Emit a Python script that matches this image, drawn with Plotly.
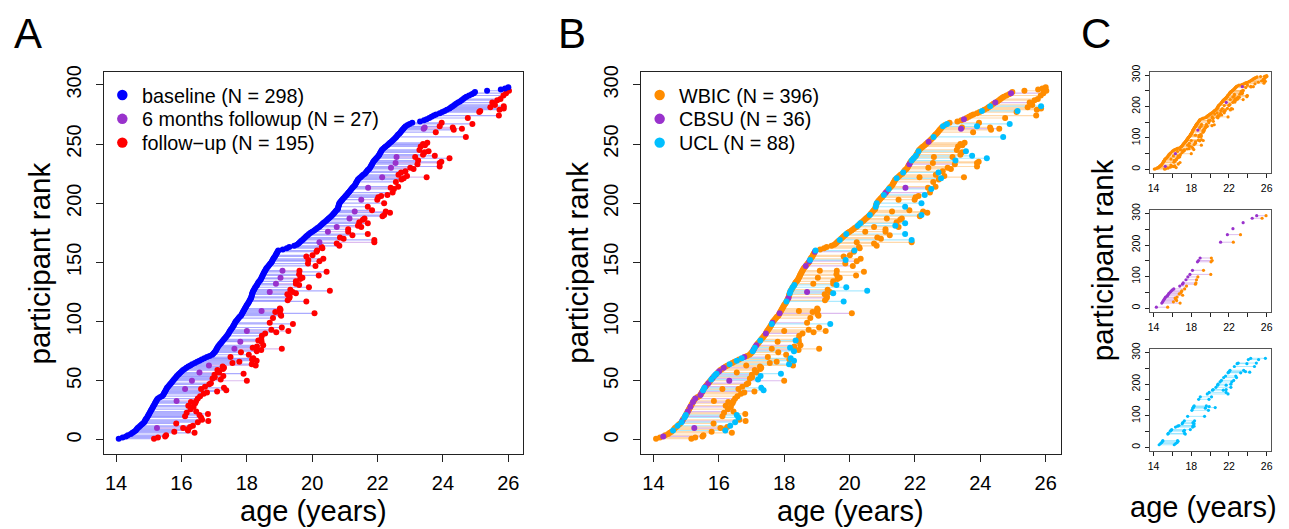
import plotly.graph_objects as go

W, H = 1289, 529

# ---------------- data ----------------
baseline_age = [
    14.08, 14.2, 14.3, 14.36, 14.45, 14.5, 14.55, 14.6, 14.63, 14.66,
    14.7, 14.74, 14.78, 14.82, 14.86, 14.88, 14.9, 14.92, 14.95, 14.97,
    14.99, 15.01, 15.03, 15.05, 15.07, 15.09, 15.11, 15.13, 15.15, 15.17,
    15.19, 15.21, 15.23, 15.25, 15.28, 15.34, 15.4, 15.44, 15.46, 15.48,
    15.5, 15.52, 15.54, 15.56, 15.59, 15.62, 15.65, 15.68, 15.71, 15.74,
    15.77, 15.8, 15.83, 15.86, 15.9, 15.93, 15.97, 16.01, 16.05, 16.1,
    16.15, 16.21, 16.27, 16.33, 16.41, 16.48, 16.55, 16.62, 16.7, 16.78,
    16.86, 16.94, 16.98, 17.01, 17.04, 17.06, 17.08, 17.1, 17.12, 17.15,
    17.18, 17.21, 17.24, 17.27, 17.3, 17.33, 17.36, 17.39, 17.42, 17.44,
    17.46, 17.48, 17.51, 17.53, 17.56, 17.58, 17.6, 17.62, 17.64, 17.66,
    17.69, 17.72, 17.75, 17.78, 17.82, 17.84, 17.86, 17.88, 17.9, 17.92,
    17.94, 17.96, 17.98, 18.0, 18.03, 18.05, 18.07, 18.09, 18.11, 18.13,
    18.14, 18.15, 18.16, 18.17, 18.18, 18.2, 18.22, 18.24, 18.26, 18.29,
    18.31, 18.33, 18.35, 18.38, 18.41, 18.43, 18.45, 18.47, 18.48, 18.5,
    18.52, 18.54, 18.56, 18.58, 18.6, 18.63, 18.66, 18.69, 18.72, 18.75,
    18.77, 18.79, 18.81, 18.83, 18.86, 18.88, 18.9, 18.92, 18.94, 18.96,
    19.1, 19.22, 19.3, 19.45, 19.53, 19.58, 19.62, 19.66, 19.7, 19.74,
    19.78, 19.82, 19.86, 19.9, 19.95, 20.0, 20.06, 20.11, 20.16, 20.21,
    20.25, 20.29, 20.33, 20.37, 20.42, 20.46, 20.5, 20.54, 20.58, 20.62,
    20.65, 20.68, 20.71, 20.74, 20.78, 20.79, 20.8, 20.81, 20.82, 20.83,
    20.86, 20.89, 20.92, 20.95, 20.99, 21.02, 21.05, 21.08, 21.11, 21.14,
    21.17, 21.2, 21.23, 21.26, 21.3, 21.32, 21.34, 21.36, 21.38, 21.4,
    21.44, 21.48, 21.52, 21.56, 21.61, 21.64, 21.67, 21.7, 21.74, 21.77,
    21.79, 21.81, 21.83, 21.85, 21.87, 21.9, 21.93, 21.96, 22.0, 22.03,
    22.05, 22.07, 22.09, 22.11, 22.13, 22.17, 22.21, 22.25, 22.3, 22.34,
    22.38, 22.42, 22.46, 22.5, 22.54, 22.57, 22.6, 22.63, 22.67, 22.7,
    22.73, 22.76, 22.79, 22.82, 22.86, 22.92, 22.98, 23.06, 23.3, 23.42,
    23.5, 23.58, 23.65, 23.72, 23.79, 23.9, 23.98, 24.05, 24.12, 24.2,
    24.25, 24.3, 24.35, 24.4, 24.46, 24.52, 24.57, 24.62, 24.67, 24.72,
    24.8, 24.88, 24.94, 24.98, 25.35, 25.77, 25.9, 26.0,
]

sixmonth_rank = [10, 33, 43, 50, 57, 63, 77, 83, 92, 109, 125, 132, 137, 143,
                 167, 176, 180, 187, 193, 203, 213, 222, 230, 234, 239, 263, 264]
sixmonth_age = [15.25, 15.85, 16.11, 16.32, 16.55, 16.84, 17.62, 17.8, 18.0, 18.45,
                18.7, 18.89, 19.03, 19.09, 20.22, 20.48, 20.75, 21.14, 21.3, 21.5,
                21.71, 22.14, 22.41, 22.55, 22.58, 23.41, 23.44]

followup_rank = [
    1, 2, 3, 4, 6, 7, 8, 9, 10,
    11, 12, 14, 15, 16, 17, 19, 20,
    21, 22, 23, 24, 26, 28, 29,
    31, 32, 33, 35, 37, 39, 40,
    41, 42, 43, 44, 45, 47, 48, 50,
    51, 52, 53, 54, 55, 56, 57, 59, 60,
    61, 62, 63, 64, 65, 66, 67, 68, 69, 70,
    72, 74, 75, 76, 77, 78, 79, 80,
    83, 84, 85, 88, 90,
    91, 92, 93, 95, 98, 99,
    103, 105, 106, 107, 108, 109, 110,
    111, 117, 118, 120,
    121, 123, 124, 125, 126, 127, 129,
    131, 132, 134, 136, 137, 139, 140,
    142, 143, 147, 149,
    151, 152, 153, 155, 156, 159, 160,
    162, 163, 164, 166, 167, 169, 170,
    171, 173, 174, 176, 178, 180,
    181, 183, 184, 186, 187, 189, 190,
    192, 193, 194, 197, 200,
    203, 205, 206, 207, 209,
    212, 213, 214, 218, 220,
    221, 222, 223, 224, 226, 227, 229, 230,
    231, 233, 234, 235, 236, 238, 239, 240,
    241, 243, 244, 245, 248, 249, 250,
    251, 256, 260,
    262, 263, 264, 265, 267, 268,
    272, 274, 277, 278, 279, 280,
    281, 282, 283, 285, 287, 288, 291, 293, 295,
]
followup_age = [
    15.16, 15.28, 15.5, 15.53, 16.4, 15.78, 16.2, 16.19, 16.05,
    16.26, 16.35, 15.84, 16.5, 16.82, 16.63, 16.6, 16.11,
    16.55, 16.81, 16.16, 16.45, 16.28, 16.37, 16.21,
    16.42, 16.29, 16.45, 16.5, 16.57, 16.68, 16.78,
    17.09, 17.37, 16.6, 17.3, 16.72, 16.85, 16.9, 18.0,
    17.2, 16.95, 17.02, 17.28, 17.01, 17.9, 17.15, 17.1, 17.27,
    17.3, 17.26, 18.27, 18.15, 17.56, 17.77, 18.3, 18.16, 18.2, 17.5,
    18.06, 17.82, 18.3, 18.44, 19.07, 18.18, 18.31, 18.5,
    18.45, 18.35, 18.44, 18.46, 18.56,
    18.9, 19.27, 18.75, 19.07, 19.41, 18.7,
    18.8, 19.05, 19.03, 20.07, 18.87, 19.0, 19.03,
    19.01, 19.82, 19.25, 19.3,
    19.31, 19.24, 19.5, 19.4, 20.54, 19.33, 19.9,
    19.6, 19.5, 19.5, 19.63, 19.7, 20.2, 19.6,
    20.44, 19.61, 20.1, 19.87,
    20.22, 19.88, 20.34, 19.82, 20.01, 20.13, 20.15,
    20.31, 20.29, 20.83, 20.75, 21.9, 21.9, 20.96,
    20.85, 21.23, 21.7, 21.1, 21.1, 21.5,
    21.4, 21.7, 21.44, 21.55, 21.6, 22.15, 22.2,
    22.38, 22.25, 21.83, 21.7, 22.2,
    21.99, 22.02, 22.11, 22.3, 22.46,
    22.5, 22.4, 22.63, 22.56, 22.73,
    22.8, 23.5, 22.9, 22.64, 22.72, 22.85, 23.1, 23.0,
    23.9, 23.22, 23.9, 23.95, 23.24, 24.2, 23.15, 23.75,
    23.39, 23.44, 23.56, 23.28, 23.32, 23.45, 23.39,
    23.52, 24.7, 23.78,
    24.33, 24.58, 24.3, 23.9, 24.9, 23.96,
    24.76, 25.71, 25.11, 25.14, 25.73, 25.86,
    25.45, 25.86, 25.59, 25.51, 25.66, 25.76, 25.85, 25.93, 26.02,
]

# scan sites (participant ranks); everything else was scanned at WBIC
cbsu_baseline_ranks = [3, 16, 20, 24, 28, 32, 35, 38, 41, 45, 48, 52, 55, 58, 61, 70,
                       76, 80, 90, 99, 107, 120, 147, 151, 159, 209, 233, 252, 271, 285, 293]
ucl_baseline_ranks = [8, 12, 15, 19, 21, 42, 44, 51, 54, 56, 64, 67, 69, 75, 78, 84, 98,
                      117, 124, 126, 129, 131, 152, 160, 169, 174, 181, 183, 190, 197, 200,
                      207, 212, 221, 226, 236, 238, 240, 244, 256, 265, 267, 278, 282]
cbsu_sixmonth_ranks = [10, 50, 125, 213, 263]

site_names = ["WBIC", "CBSU", "UCL"]
visit_kinds = ["baseline", "sixmonth", "followup"]
visit_labels = ["baseline", "6 months followup", "follow\u2212up"]

# ---------------- styling ----------------
FONT = "Liberation Sans, Arial, Helvetica, sans-serif"
VISIT_COLOR = {"baseline": "#0000FF", "sixmonth": "#9932CC", "followup": "#FF0000"}
VISIT_LINE = {"baseline": "rgba(0,0,255,0.33)", "sixmonth": "rgba(153,50,204,0.33)"}
SITE_COLOR = {"WBIC": "#FF8C00", "CBSU": "#9932CC", "UCL": "#00BFFF"}
SITE_LINE = {"WBIC": "rgba(255,140,0,0.33)", "CBSU": "rgba(153,50,204,0.33)",
             "UCL": "rgba(0,191,255,0.33)"}

ranks = list(range(1, len(baseline_age) + 1))
base = dict(zip(ranks, baseline_age))
fu = dict(zip(followup_rank, followup_age))
sm = dict(zip(sixmonth_rank, sixmonth_age))


def bsite(r):
    if r in cbsu_baseline_ranks:
        return "CBSU"
    if r in ucl_baseline_ranks:
        return "UCL"
    return "WBIC"


def visits(r):
    v = [(base[r], "baseline", bsite(r))]
    if r in sm:
        v.append((sm[r], "sixmonth", "CBSU" if r in cbsu_sixmonth_ranks else "WBIC"))
    if r in fu:
        v.append((fu[r], "followup", "UCL" if bsite(r) == "UCL" else "WBIC"))
    return v


fig = go.Figure()


def seg_trace(xs, ys, color, width, axis):
    return go.Scatter(x=xs, y=ys, mode="lines", line=dict(color=color, width=width),
                      hoverinfo="skip", showlegend=False, xaxis="x" + axis, yaxis="y" + axis)


def pt_trace(xs, ys, color, size, axis, name=None):
    return go.Scatter(x=xs, y=ys, mode="markers", name=name,
                      marker=dict(color=color, size=size, line=dict(width=0)),
                      showlegend=False, xaxis="x" + axis, yaxis="y" + axis)


# ---------- Panel A: by visit ----------
segA = {"baseline": ([], []), "sixmonth": ([], [])}
ptsA = {k: ([], []) for k in visit_kinds}
for r in ranks:
    v = visits(r)
    for a, b in zip(v[:-1], v[1:]):
        segA[a[1]][0].extend([a[0], b[0], None])
        segA[a[1]][1].extend([r, r, None])
    for age, kind, _ in v:
        ptsA[kind][0].append(age)
        ptsA[kind][1].append(r)
for k in ["baseline", "sixmonth"]:
    fig.add_trace(seg_trace(*segA[k], VISIT_LINE[k], 1.2, ""))
for k in ["followup", "sixmonth", "baseline"]:
    fig.add_trace(pt_trace(*ptsA[k], VISIT_COLOR[k], 6, "", name=k))

# ---------- Panel B: by site ----------
segB = {s: ([], []) for s in site_names}
ptsB = {s: ([], []) for s in site_names}
for r in ranks:
    v = visits(r)
    for a, b in zip(v[:-1], v[1:]):
        segB[a[2]][0].extend([a[0], b[0], None])
        segB[a[2]][1].extend([r, r, None])
    for age, _, s in v:
        ptsB[s][0].append(age)
        ptsB[s][1].append(r)
for s in site_names:
    fig.add_trace(seg_trace(*segB[s], SITE_LINE[s], 1.2, "2"))
for s in site_names:
    fig.add_trace(pt_trace(*ptsB[s], SITE_COLOR[s], 6, "2", name=s))

# ---------- Panel C: one small plot per baseline site ----------
for s, ax in zip(site_names, ["3", "4", "5"]):
    sx, sy = [], []
    pts = {t: ([], []) for t in site_names}
    for r in ranks:
        if bsite(r) != s:
            continue
        v = visits(r)
        for a, b in zip(v[:-1], v[1:]):
            sx.extend([a[0], b[0], None])
            sy.extend([r, r, None])
        for age, _, t in v:
            pts[t][0].append(age)
            pts[t][1].append(r)
    fig.add_trace(seg_trace(sx, sy, SITE_LINE[s], 1, ax))
    for t in site_names:
        if pts[t][0]:
            fig.add_trace(pt_trace(*pts[t], SITE_COLOR[t], 3.2, ax, name=t))


# ---------------- layout ----------------
def px_x(p):
    return p / W


def px_y(p):
    return 1 - p / H


XR = [13.62, 26.46]
YR = [-12.2, 310.5]
OFF_B = 539


def axes(x0, x1, y0, y1, anchor, small=False):
    fs = 10.5 if small else 20
    tl = 3.5 if small else 7
    if small:
        xt = dict(tickvals=list(range(14, 27, 2)), ticktext=["14", "", "18", "", "22", "", "26"])
        yt = dict(tickvals=list(range(0, 301, 50)), ticktext=["0", "", "100", "", "200", "", "300"])
    else:
        xt = dict(tickvals=list(range(14, 27, 2)))
        yt = dict(tickvals=list(range(0, 301, 50)))
    common = dict(showgrid=False, zeroline=False, showline=True, mirror=True,
                  linecolor="#222" if not small else "#555", linewidth=1,
                  ticks="outside", ticklen=tl, tickwidth=1, tickcolor="#222",
                  tickfont=dict(family=FONT, size=fs, color="#000"))
    xa = dict(domain=[px_x(x0), px_x(x1)], range=XR, anchor="y" + anchor,
              ticklabelstandoff=2 if small else 4, **xt, **common)
    ya = dict(domain=[px_y(y1), px_y(y0)], range=YR, anchor="x" + anchor,
              tickangle=-90, ticklabelstandoff=1 if small else 7, **yt, **common)
    return xa, ya


lay = {}
for anchor, box, small in [("", (102, 523, 66.3, 453.4), False),
                           ("2", (102 + OFF_B, 523 + OFF_B, 66.3, 453.4), False),
                           ("3", (1151.5, 1273, 65.6, 168.5), True),
                           ("4", (1151.5, 1273, 205.9, 309.1), True),
                           ("5", (1151.5, 1273, 346.9, 450.1), True)]:
    xa, ya = axes(*box, anchor, small)
    lay["xaxis" + anchor] = xa
    lay["yaxis" + anchor] = ya

ann = []
shapes = []


def text(s, x, y, size, angle=0, xanchor="center"):
    ann.append(dict(text=s, x=px_x(x), y=px_y(y), xref="paper", yref="paper",
                    showarrow=False, textangle=angle, xanchor=xanchor, yanchor="middle",
                    font=dict(family=FONT, size=size, color="#000")))


for off in [0, OFF_B]:
    text("age (years)", 312.5 + off, 511, 29)
    text("participant rank", 37.5 + off, 259.5, 29.5, -90)
text("participant rank", 1104, 257, 29.5, -90)
text("age (years)", 1205, 507, 29)
text("A", 26.5, 27, 42)
text("B", 572, 27, 42)
text("C", 1097, 27, 42)

# legends (key symbols + labels, counts taken from the data)
legA = [(f"{lab} (N = {len(ptsA[k][0])})", VISIT_COLOR[k]) for k, lab in zip(visit_kinds, visit_labels)]
legB = [(f"{s} (N = {len(ptsB[s][0])})", SITE_COLOR[s]) for s in site_names]
for entries, off in [(legA, 0), (legB, OFF_B)]:
    for i, (lab, col) in enumerate(entries):
        yc = 89.2 + i * 24.1
        xc = 120.7 + off
        d = 10.5
        shapes.append(dict(type="circle", xref="paper", yref="paper",
                           x0=px_x(xc - d / 2), x1=px_x(xc + d / 2),
                           y0=px_y(yc + d / 2), y1=px_y(yc - d / 2),
                           fillcolor=col, line=dict(width=0)))
        text(lab, 138.5 + off, yc + 0.5, 19.8, xanchor="left")

fig.update_layout(
    width=W, height=H, margin=dict(l=0, r=0, t=0, b=0),
    paper_bgcolor="white", plot_bgcolor="white",
    annotations=ann, shapes=shapes, showlegend=False,
    **lay,
)

fig.write_html("out.html")
